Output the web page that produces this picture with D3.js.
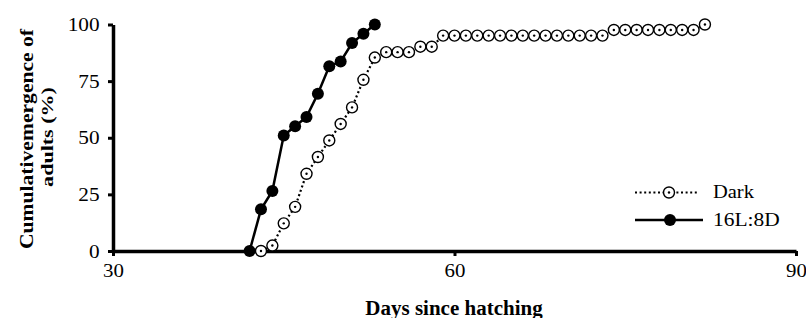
<!DOCTYPE html>
<html><head><meta charset="utf-8">
<script src="https://cdn.jsdelivr.net/npm/d3@7"></script>
<style>body{margin:0;background:#fff}svg{display:block}</style>
</head><body>
<svg id="c" width="806" height="318"></svg>
<script>
const darkDays = [43,44,45,46,47,48,49,50,51,52,53,54,55,56,57,58,59,60,61,62,63,64,65,66,67,68,69,70,71,72,73,74,75,76,77,78,79,80,81,82];
const darkValues = [0,2.4,12.2,19.5,34.1,41.5,48.8,56.1,63.4,75.6,85.4,87.8,87.8,87.8,90.2,90.2,95.1,95.1,95.1,95.1,95.1,95.1,95.1,95.1,95.1,95.1,95.1,95.1,95.1,95.1,95.1,97.6,97.6,97.6,97.6,97.6,97.6,97.6,97.6,100];
const ldDays = [42,43,44,45,46,47,48,49,50,51,52,53];
const ldValues = [0,18.4,26.5,51.0,55.1,59.2,69.4,81.6,83.7,91.8,95.9,100];
const xTicks = [30,60,90];
const yTicks = [0,25,50,75,100];
const seriesNames = ["Dark","16L:8D"];
const xTitle = "Days since hatching";
const yTitleLines = ["Cumulativemergence of","adults (%)"];

const svg = d3.select("#c");
const font = "'Liberation Serif','Times New Roman',serif";
const x = d3.scaleLinear().domain([30,90]).range([113,796]);
const y = d3.scaleLinear().domain([0,100]).range([251,24.5]);

// axes
const xa = svg.append("g").attr("transform","translate(0,251)")
  .call(d3.axisBottom(x).tickValues(xTicks).tickSize(5).tickSizeOuter(0).tickPadding(8));
const ya = svg.append("g").attr("transform","translate(113,0)")
  .call(d3.axisLeft(y).tickValues(yTicks).tickSize(5).tickSizeOuter(0).tickPadding(7));
[xa,ya].forEach(a=>{
  a.select(".domain").attr("stroke","#000").attr("stroke-width",3.5);
  a.selectAll(".tick line").attr("stroke","#000").attr("stroke-width",3);
  a.selectAll(".tick text").attr("font-family",font).attr("font-size",19).attr("fill","#000");
});
xa.selectAll(".tick text").attr("transform","scale(1.1,1)");
ya.selectAll(".tick text").attr("transform","scale(1.12,1)");

// titles
svg.append("text").attr("transform","translate(454,314.5) scale(1.05,1)").attr("text-anchor","middle")
  .attr("font-family",font).attr("font-weight","bold").attr("font-size",20).text(xTitle);
svg.append("text").attr("transform","translate(33,139) rotate(-90) scale(1.2,1)").attr("text-anchor","middle")
  .attr("font-family",font).attr("font-weight","bold").attr("font-size",18).text(yTitleLines[0]);
svg.append("text").attr("transform","translate(52.5,137) rotate(-90) scale(1.26,1)").attr("text-anchor","middle")
  .attr("font-family",font).attr("font-weight","bold").attr("font-size",17.5).text(yTitleLines[1]);

const line = d3.line().x(d=>x(d[0])).y(d=>y(d[1]));
const ld = ldDays.map((d,i)=>[d,ldValues[i]]);
const dk = darkDays.map((d,i)=>[d,darkValues[i]]);

svg.append("path").datum(ld).attr("d",line).attr("fill","none").attr("stroke","#000").attr("stroke-width",2.5);
svg.append("path").datum(dk).attr("d",line).attr("fill","none").attr("stroke","#000").attr("stroke-width",2.2).attr("stroke-dasharray","2,2.6");

svg.append("g").selectAll("circle").data(ld).join("circle")
  .attr("cx",d=>x(d[0])).attr("cy",d=>y(d[1])).attr("r",6).attr("fill","#000");
const og = svg.append("g").selectAll("g").data(dk).join("g")
  .attr("transform",d=>`translate(${x(d[0])},${y(d[1])})`);
og.append("circle").attr("r",5.5).attr("fill","#fff").attr("stroke","#000").attr("stroke-width",1.4);
og.append("circle").attr("r",1.2).attr("fill","#000");

// legend
const lg = svg.append("g");
lg.append("line").attr("x1",635).attr("x2",699).attr("y1",192.5).attr("y2",192.5)
  .attr("stroke","#000").attr("stroke-width",2.2).attr("stroke-dasharray","2,2.6");
lg.append("circle").attr("cx",669).attr("cy",192.5).attr("r",5.5).attr("fill","#fff").attr("stroke","#000").attr("stroke-width",1.4);
lg.append("circle").attr("cx",669).attr("cy",192.5).attr("r",1.2).attr("fill","#000");
lg.append("line").attr("x1",635).attr("x2",703).attr("y1",220).attr("y2",220)
  .attr("stroke","#000").attr("stroke-width",2.5);
lg.append("circle").attr("cx",670).attr("cy",220).attr("r",6).attr("fill","#000");
lg.append("text").attr("transform","translate(713,198) scale(1.05,1)").attr("font-family",font).attr("font-size",19.5).text(seriesNames[0]);
lg.append("text").attr("transform","translate(713,225.5) scale(1.1,1)").attr("font-family",font).attr("font-size",19.5).text(seriesNames[1]);
</script>
</body></html>
